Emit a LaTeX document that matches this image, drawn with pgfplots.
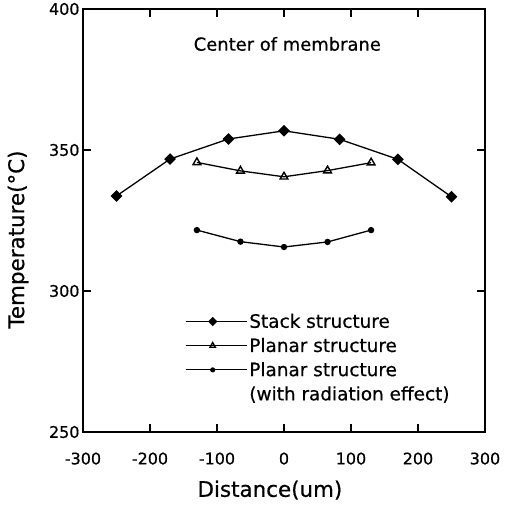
\documentclass[border=0pt]{standalone}
\usepackage{fontspec}
\setmainfont{DejaVu Sans}[FakeBold=0.6]
\usepackage{pgfplots}
\pgfplotsset{compat=1.18}
\begin{document}
\begin{tikzpicture}
\begin{axis}[
  name=ax,
  scale only axis,
  width=402bp, height=423bp,
  xmin=-300, xmax=300, ymin=250, ymax=400,
  xtick={-300,-200,...,300},
  ytick={250,300,350,400},
  tick align=inside,
  major tick length=8bp,
  axis line style={line width=2bp},
  tick style={line width=1.8bp,black},
  /pgf/number format/assume math mode=true,
  ticklabel style={font=\fontsize{16}{19}\selectfont},
  xticklabel style={yshift=-17bp},
  xlabel={Distance(um)},
  ylabel={Temperature(\textdegree C)},
  xlabel style={at={(rel axis cs:0.465,0)}, anchor=north, yshift=-45bp},
  ylabel style={at={(rel axis cs:0,0.455)}, anchor=south, yshift=51bp},
  label style={font=\fontsize{21.5}{24}\selectfont},
  every axis plot/.append style={line width=1.3bp, black},
  legend style={draw=none, fill=none, at={(axis cs:-148,292.7)}, anchor=north west,
    font=\fontsize{18.5}{22}\selectfont, row sep=4.7bp, inner sep=0pt},
  legend cell align=left,
  legend image code/.code={\draw[mark repeat=2,mark phase=2,#1] plot coordinates {(0bp,0bp)(27bp,0bp)(54bp,0bp)};
    \path (0bp,0bp) -- (61bp,0bp);},
  clip=false,
]
\addplot[mark=square*, mark size=3.5bp, mark options={rotate=45}, forget plot] coordinates {
 (-250,333.7) (-170,346.8) (-83,353.9) (0,356.8) (83,353.8) (170,346.7) (250,333.4)};
\addplot[mark=triangle, mark size=4.5bp, mark options={line width=1.4bp}, forget plot] coordinates {
 (-130,345.6) (-65,342.6) (0,340.5) (65,342.7) (130,345.5)};
\addplot[mark=*, mark size=2.5bp, forget plot] coordinates {
 (-130,321.6) (-65,317.5) (0,315.6) (65,317.4) (130,321.6)};
\addlegendimage{black, line width=1.3bp, mark=square*, mark size=2.6bp, mark options={rotate=45}}
\addlegendentry{Stack structure}
\addlegendimage{black, line width=1.1bp, mark=triangle, mark size=3.2bp, mark options={line width=1.3bp}}
\addlegendentry{Planar structure}
\addlegendimage{black, line width=1.1bp, mark=*, mark size=2bp}
\addlegendentry{Planar structure}
\addlegendimage{empty legend}
\addlegendentry{(with radiation effect)}
\node[font=\fontsize{18}{22}\selectfont] at (axis cs:5,387.6) {Center of membrane};
\end{axis}
\pgfresetboundingbox
\path ([xshift=-83bp,yshift=-80bp]ax.south west) rectangle ([xshift=20bp,yshift=9bp]ax.north east);
\end{tikzpicture}
\end{document}
